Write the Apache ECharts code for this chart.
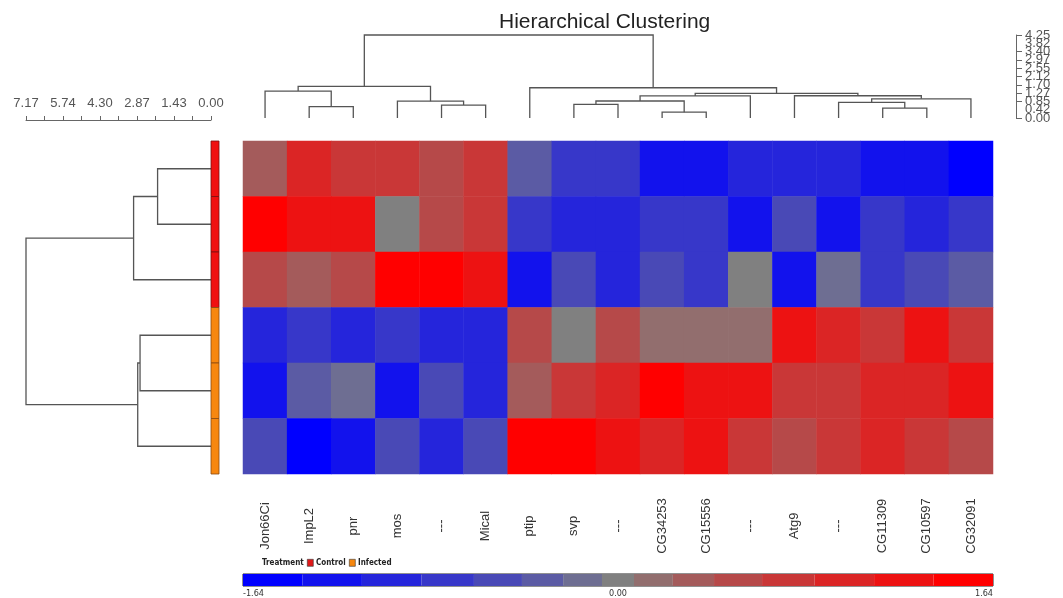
<!DOCTYPE html>
<html><head><meta charset="utf-8">
<script src="https://cdn.jsdelivr.net/npm/echarts@6/dist/echarts.min.js"></script>
<style>html,body{margin:0;padding:0;background:#fff}#chart{width:1063px;height:598px}</style>
</head><body><div id="chart"></div>
<script>
// ---------- data ----------
const genes = ['Jon66Ci','ImpL2','pnr','mos','---','Mical','ptip','svp','---','CG34253','CG15556','---','Atg9','---','CG11309','CG10597','CG32091'];
const samples = ['Control 1','Control 2','Control 3','Infected 1','Infected 2','Infected 3'];
const treatment = ['Control','Control','Control','Infected','Infected','Infected'];
const treatmentGroups = ['Control','Infected'];

const row1 = [0.33,0.99,0.75,0.75,0.52,0.75,-0.33,-0.75,-0.75,-1.25,-1.25,-0.99,-0.99,-0.99,-1.25,-1.25,-1.51];
const row2 = [1.51,1.25,1.25,0.00,0.52,0.75,-0.75,-0.99,-0.99,-0.75,-0.75,-1.25,-0.52,-1.25,-0.75,-0.99,-0.75];
const row3 = [0.52,0.33,0.52,1.51,1.51,1.25,-1.25,-0.52,-0.99,-0.52,-0.75,0.00,-1.25,-0.16,-0.75,-0.52,-0.33];
const row4 = [-0.99,-0.75,-0.99,-0.75,-0.99,-0.99,0.52,0.00,0.52,0.16,0.16,0.16,1.25,0.99,0.75,1.25,0.75];
const row5 = [-1.25,-0.33,-0.16,-1.25,-0.52,-0.99,0.33,0.75,0.99,1.51,1.25,1.25,0.75,0.75,0.99,0.99,1.25];
const row6 = [-0.52,-1.51,-1.25,-0.52,-0.99,-0.52,1.51,1.51,1.25,0.99,1.25,0.75,0.52,0.75,0.99,0.75,0.52];
const rows = [row1,row2,row3,row4,row5,row6];

// colour-scale breaks (value units)
const colorBreaks = [-1.64,-1.38,-1.12,-0.86,-0.63,-0.42,-0.24,-0.07,0.07,0.24,0.42,0.63,0.86,1.12,1.38,1.64];
const colorbarLabels = ['-1.64','0.00','1.64'];

// column dendrogram linkage: [childA, childB, height]; ids >= 17 are earlier merges
const colLinkage = [
  [1,2,0.58],[0,17,1.38],[4,5,0.66],[3,19,0.86],[18,20,1.62],
  [9,10,0.30],[7,8,0.70],[23,22,0.87],[24,11,1.13],
  [14,15,0.51],[13,26,0.80],[27,16,0.98],[12,28,1.14],
  [25,29,1.26],[6,30,1.55],[21,31,4.25]
];
const colScaleLabels = ['0.00','0.42','0.85','1.27','1.70','2.12','2.55','2.97','3.40','3.82','4.25'];

// row dendrogram linkage; ids >= 6 are earlier merges
const rowLinkage = [
  [0,1,2.07],[6,2,3.00],[3,4,2.75],[8,5,2.84],[7,9,7.17]
];
const rowScaleLabels = ['0.00','1.43','2.87','4.30','5.74','7.17'];

// ---------- helpers ----------
function colorFor(k){ // k in -7..7
  const f = Math.abs(k)/7;
  let r,g,b;
  if(k<=0){ const t=1-f; r=Math.round(128*t); g=r; b=Math.round(255-127*t); }
  else { r=Math.round(128+127*f); g=Math.round(128-128*f); b=g; }
  return 'rgb('+r+','+g+','+b+')';
}
const pieces = [];
for(let i=0;i<colorBreaks.length-1;i++){
  pieces.push({min:colorBreaks[i], max:colorBreaks[i+1], color:colorFor(i-7)});
}
function dendroSegments(linkage, nLeaves){
  const pos = [], ht = [];
  for(let i=0;i<nLeaves;i++){ pos.push(i+0.5); ht.push(0); }
  const segs = [];
  linkage.forEach(function(m){
    const a=m[0], b=m[1], h=m[2];
    segs.push([pos[a], ht[a], pos[b], ht[b], h]);
    pos.push((pos[a]+pos[b])/2); ht.push(h);
  });
  return segs;
}
const colSegs = dendroSegments(colLinkage, genes.length);
const rowSegs = dendroSegments(rowLinkage, samples.length);

const heatData = [];
rows.forEach(function(r, ri){ r.forEach(function(v, ci){ heatData.push([ci, ri, v]); }); });

const lineStyle = {stroke:'#555', lineWidth:1.3, fill:null};
const font = "'Liberation Sans', Arial, sans-serif";
const narrow = "'Liberation Sans Narrow','DejaVu Sans Condensed', 'Liberation Sans', sans-serif";

// right-hand height scale of the column dendrogram: main axis + a helper axis for the labels
// next to the min/max label (which the library would otherwise drop as overlapping)
function colScaleAxis(showLine, pick){
  return {gridIndex:1, type:'value', min:0, max:4.25, interval:0.425, position:'right', offset:23,
    axisLine:{show:showLine, onZero:false, lineStyle:{color:'#666', width:1}},
    axisTick:{show:showLine, length:6, lineStyle:{color:'#666'}},
    splitLine:{show:false},
    axisLabel:{margin:9, fontSize:13, color:'#555', fontFamily:font,
      showMinLabel:showLine, showMaxLabel:showLine, hideOverlap:false,
      formatter:function(v){ const k=Math.round(v/0.425); return pick(k) ? colScaleLabels[k] : ''; }}};
}

const chart = echarts.init(document.getElementById('chart'), null, {renderer:'canvas'});
chart.setOption({
  animation:false,
  backgroundColor:'#fff',
  title:{text:'Hierarchical Clustering', left:494, top:7,
    textStyle:{fontSize:21, fontWeight:'normal', color:'#222', fontFamily:font}},
  grid:[
    {left:243, right:70, top:141, bottom:124, outerBoundsMode:'none'},   // heatmap
    {left:243, right:70, top:35, bottom:480, outerBoundsMode:'none'},    // column dendrogram
    {left:26, right:852, top:141, bottom:124, outerBoundsMode:'none'},   // row dendrogram
    {left:211, width:8, top:141, bottom:124, outerBoundsMode:'none'},    // treatment bar
    {left:243, right:70, top:574, height:12, outerBoundsMode:'none', show:true, borderColor:'#222', borderWidth:1, backgroundColor:'transparent'} // colour bar
  ],
  xAxis:[
    {gridIndex:0, type:'category', data:genes, position:'bottom',
      axisLine:{show:false}, axisTick:{show:false}, splitLine:{show:false},
      axisLabel:{interval:0, rotate:90, align:'center', verticalAlign:'middle', margin:52,
        fontSize:13, color:'#333', fontFamily:font,
        formatter:function(v, i){ return genes[i]; }}},
    {gridIndex:1, type:'value', min:0, max:genes.length, show:false},
    {gridIndex:2, type:'value', min:0, max:7.17, interval:0.717, inverse:true, position:'top', offset:21,
      axisLine:{show:true, onZero:false, lineStyle:{color:'#666', width:1}},
      axisTick:{show:true, length:4, lineStyle:{color:'#666'}},
      splitLine:{show:false},
      axisLabel:{margin:10, fontSize:13, color:'#555', fontFamily:font, showMinLabel:true, showMaxLabel:true, hideOverlap:false,
        formatter:function(v){ const k=Math.round(v/0.717); return k%2===0 ? rowScaleLabels[k/2] : ''; }}},
    {gridIndex:3, type:'category', data:['Treatment'], show:false},
    {gridIndex:4, type:'value', min:-1.64, max:1.64, interval:1.64,
      axisLine:{show:false}, axisTick:{show:false}, splitLine:{show:false},
      axisLabel:{margin:3, fontSize:9, color:'#333', fontFamily:narrow, alignMinLabel:'left', alignMaxLabel:'right',
        showMinLabel:true, showMaxLabel:true,
        formatter:function(v){ const k=Math.round(v/1.64)+1; return colorbarLabels[k]; }}}
  ],
  yAxis:[
    {gridIndex:0, type:'category', data:samples, inverse:true, show:false},
    colScaleAxis(true, function(k){ return true; }),
    {gridIndex:2, type:'value', min:0, max:samples.length, inverse:true, show:false},
    {gridIndex:3, type:'category', data:samples, inverse:true, show:false},
    {gridIndex:4, type:'category', data:['scale'], show:false},
    colScaleAxis(false, function(k){ return k===1 || k===colScaleLabels.length-2; })
  ],
  visualMap:{type:'piecewise', show:false, seriesIndex:0, dimension:2, pieces:pieces},
  series:[
    {type:'heatmap', xAxisIndex:0, yAxisIndex:0, data:heatData, itemStyle:{borderWidth:0}, emphasis:{disabled:true}},
    {type:'custom', xAxisIndex:1, yAxisIndex:1, silent:true, data:colSegs,
      renderItem:function(params, api){
        const xa=api.value(0), ha=api.value(1), xb=api.value(2), hb=api.value(3), h=api.value(4);
        return {type:'polyline', shape:{points:[api.coord([xa,ha]),api.coord([xa,h]),api.coord([xb,h]),api.coord([xb,hb])]}, style:lineStyle};
      }},
    {type:'custom', xAxisIndex:2, yAxisIndex:2, silent:true, data:rowSegs,
      renderItem:function(params, api){
        const ya=api.value(0), ha=api.value(1), yb=api.value(2), hb=api.value(3), h=api.value(4);
        return {type:'polyline', shape:{points:[api.coord([ha,ya]),api.coord([h,ya]),api.coord([h,yb]),api.coord([hb,yb])]}, style:lineStyle};
      }},
    {type:'custom', xAxisIndex:3, yAxisIndex:3, silent:true,
      data:treatment.map(function(t, i){ return [0, i, treatmentGroups.indexOf(t)]; }),
      renderItem:function(params, api){
        const c=api.coord([0, api.value(1)]), s=api.size([1,1]);
        const g=api.value(2);
        return {type:'rect', shape:{x:c[0]-s[0]/2, y:c[1]-s[1]/2, width:s[0], height:s[1]},
          style:{fill: g===0 ? '#f01010' : '#f7870f', stroke: g===0 ? '#7a1010' : '#8a4a10', lineWidth:0.8}};
      }},
    {type:'custom', xAxisIndex:4, yAxisIndex:4, silent:true,
      data:pieces.map(function(p, i){ return [p.min, p.max, i]; }),
      renderItem:function(params, api){
        const p0=api.coord([api.value(0), 0]), p1=api.coord([api.value(1), 0]), s=api.size([0,1]);
        return {type:'rect', shape:{x:p0[0], y:p0[1]-s[1]/2, width:p1[0]-p0[0], height:s[1]},
          style:{fill:pieces[api.value(2)].color}};
      }}
  ],
  graphic:[
    {type:'text', left:262, top:559, style:{text:'Treatment', font:'bold 8px '+narrow, fill:'#222'}},
    {type:'rect', left:307, top:559, shape:{width:6, height:7}, style:{fill:'#e01818', stroke:'#333', lineWidth:0.6}},
    {type:'text', left:316, top:559, style:{text:'Control', font:'bold 8px '+narrow, fill:'#222'}},
    {type:'rect', left:349, top:559, shape:{width:6, height:7}, style:{fill:'#f7870f', stroke:'#333', lineWidth:0.6}},
    {type:'text', left:358, top:559, style:{text:'Infected', font:'bold 8px '+narrow, fill:'#222'}}
  ]
});
</script>
</body></html>
